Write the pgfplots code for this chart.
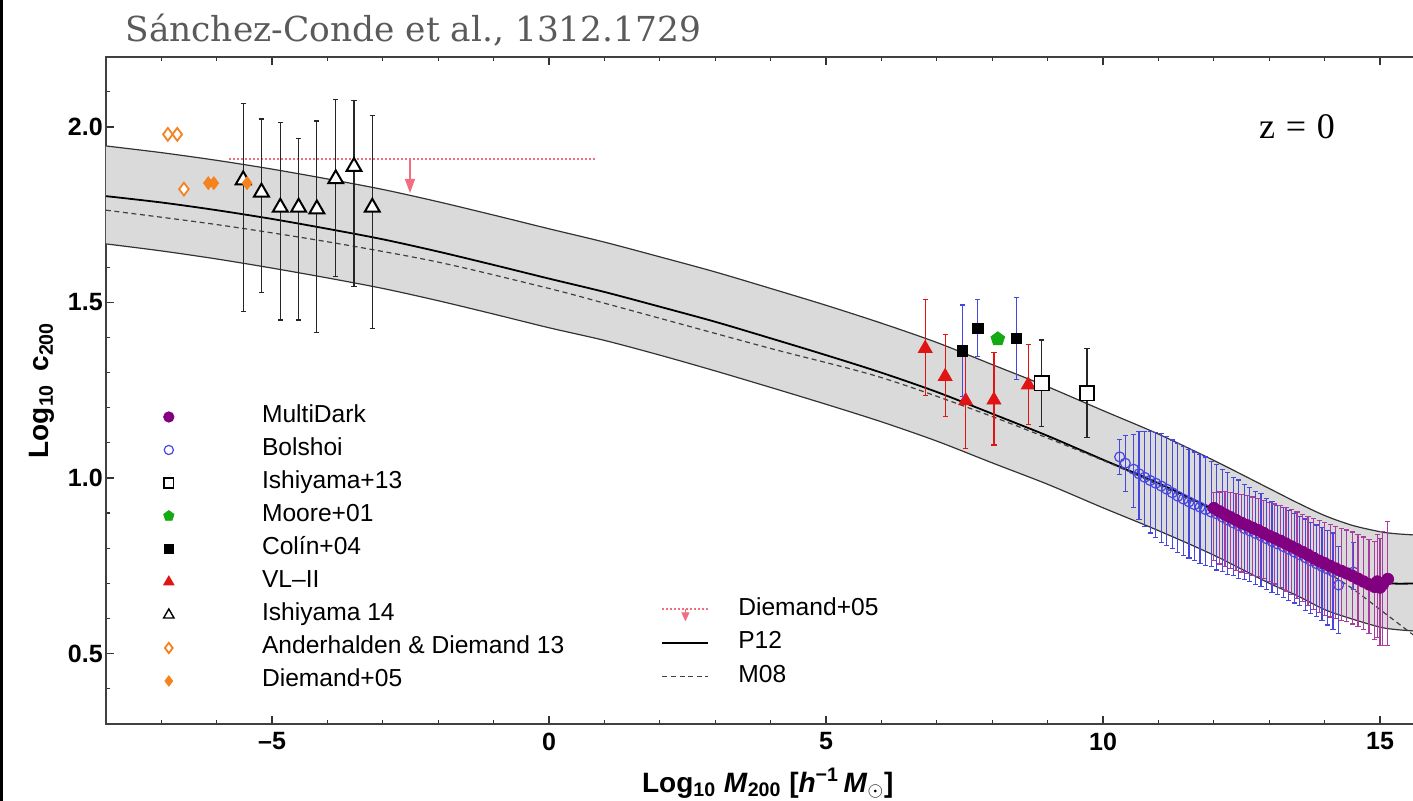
\documentclass[border=0pt]{standalone}
\usepackage{fontspec}
\setmainfont{Liberation Sans}
\newfontfamily\titlefont{DejaVu Serif}
\newfontfamily\timesfont{Liberation Serif}
\usepackage{pgfplots}
\usepackage{pgfplotstable}
\pgfplotsset{compat=1.18}
\usepgfplotslibrary{fillbetween}
\usetikzlibrary{arrows.meta}

\definecolor{bandgray}{RGB}{218,218,218}
\definecolor{mdpurple}{RGB}{128,0,128}
\definecolor{mdbar}{RGB}{170,60,160}
\definecolor{bolblue}{RGB}{70,70,225}
\definecolor{vlred}{RGB}{225,20,20}
\definecolor{mgreen}{RGB}{20,170,20}
\definecolor{adorange}{RGB}{245,130,30}
\definecolor{dpink}{RGB}{240,110,125}
\definecolor{titlegray}{RGB}{90,90,90}

% P12 central relation and band edges
\pgfplotstableread{
x y
-8 1.803
-7 1.785
-6 1.763
-5 1.738
-4 1.710
-3 1.680
-2 1.645
-1 1.607
0 1.568
1 1.530
2 1.488
3 1.445
4 1.398
5 1.350
6 1.300
7 1.245
8 1.183
9 1.120
10 1.052
11 0.985
12 0.910
13 0.830
13.5 0.790
14 0.752
14.5 0.722
15 0.703
15.3 0.699
15.8 0.700
}\Ptwelve

\pgfplotstableread{
x y
-8 1.946
-7 1.927
-6 1.905
-5 1.880
-4 1.852
-3 1.822
-2 1.787
-1 1.749
0 1.710
1 1.672
2 1.630
3 1.587
4 1.540
5 1.492
6 1.441
7 1.386
8 1.323
9 1.260
10 1.192
11 1.125
12 1.050
13 0.970
13.5 0.930
14 0.893
14.5 0.865
15 0.847
15.3 0.841
15.8 0.836
}\Upper

\pgfplotstableread{
x y
-8 1.667
-7 1.647
-6 1.624
-5 1.598
-4 1.570
-3 1.540
-2 1.505
-1 1.467
0 1.428
1 1.392
2 1.350
3 1.305
4 1.258
5 1.210
6 1.160
7 1.105
8 1.043
9 0.982
10 0.915
11 0.850
12 0.780
13 0.700
13.5 0.665
14 0.625
14.5 0.598
15 0.575
15.3 0.568
15.8 0.562
}\Lower

\pgfplotstableread{
x y
-8 1.763
-6 1.722
-4 1.673
-2 1.615
0 1.540
1 1.498
2 1.455
4 1.369
6 1.286
8 1.175
10 1.050
11 0.980
12 0.905
13 0.825
13.5 0.782
14 0.735
14.5 0.685
15 0.625
15.6 0.553
15.8 0.530
}\Meight

\pgfplotstableread{
x y ep em
-5.52 1.849 0.217 0.375
-5.19 1.814 0.209 0.285
-4.85 1.771 0.242 0.321
-4.52 1.771 0.197 0.321
-4.19 1.766 0.251 0.352
-3.85 1.852 0.227 0.277
-3.52 1.887 0.188 0.342
-3.19 1.771 0.261 0.346
}\IshiFourteen

\pgfplotstableread{
x y ep em
6.79 1.369 0.140 0.133
7.15 1.289 0.120 0.114
7.52 1.220 0.135 0.135
8.03 1.222 0.135 0.128
8.65 1.265 0.116 0.112
}\VLII

\pgfplotstableread{
x y ep em
7.46 1.362 0.131 0.130
7.74 1.426 0.083 0.080
8.44 1.398 0.117 0.117
}\Colin

\pgfplotstableread{
x y ep em
8.89 1.270 0.123 0.124
9.71 1.241 0.129 0.126
}\IshiThirteen

\pgfplotstableread{
x y ep em
10.30 1.060 0.050 0.050
10.40 1.042 0.080 0.080
10.55 1.025 0.100 0.110
10.65 1.012 0.120 0.130
10.75 1.002 0.130 0.140
10.85 0.993 0.140 0.150
10.95 0.985 0.145 0.155
11.05 0.977 0.150 0.160
11.15 0.968 0.150 0.160
11.25 0.958 0.150 0.160
11.35 0.948 0.150 0.160
11.45 0.940 0.150 0.160
11.55 0.932 0.150 0.160
11.65 0.924 0.150 0.160
11.75 0.917 0.150 0.160
11.85 0.910 0.150 0.160
11.95 0.903 0.145 0.155
12.05 0.898 0.140 0.160
12.15 0.889 0.135 0.155
12.25 0.880 0.135 0.155
12.35 0.872 0.130 0.150
12.45 0.864 0.130 0.150
12.55 0.856 0.125 0.145
12.65 0.849 0.125 0.145
12.75 0.842 0.120 0.145
12.85 0.835 0.120 0.145
12.95 0.827 0.115 0.145
13.05 0.819 0.115 0.145
13.15 0.812 0.110 0.145
13.25 0.805 0.110 0.145
13.35 0.797 0.110 0.145
13.45 0.789 0.110 0.145
13.55 0.781 0.110 0.145
13.65 0.773 0.110 0.150
13.75 0.764 0.110 0.150
13.85 0.756 0.110 0.150
13.95 0.748 0.110 0.155
14.05 0.741 0.110 0.160
14.15 0.733 0.110 0.165
14.25 0.695 0.110 0.137
14.52 0.732 0.085 0.050
}\Bolshoi

\pgfplotstableread{
x y ep em
12.00 0.914 0.045 0.150
12.10 0.905 0.055 0.150
12.20 0.896 0.065 0.148
12.30 0.888 0.070 0.146
12.40 0.880 0.075 0.144
12.50 0.872 0.080 0.140
12.60 0.865 0.085 0.138
12.70 0.858 0.088 0.135
12.80 0.851 0.090 0.132
12.90 0.843 0.092 0.130
13.00 0.835 0.095 0.130
13.10 0.828 0.098 0.130
13.20 0.821 0.100 0.132
13.30 0.813 0.102 0.135
13.40 0.805 0.105 0.138
13.50 0.797 0.106 0.140
13.60 0.789 0.108 0.142
13.70 0.781 0.110 0.145
13.80 0.772 0.112 0.147
13.90 0.764 0.114 0.148
14.00 0.757 0.116 0.148
14.10 0.749 0.118 0.145
14.20 0.742 0.120 0.142
14.30 0.735 0.122 0.140
14.40 0.728 0.124 0.138
14.50 0.721 0.125 0.137
14.60 0.713 0.126 0.136
14.70 0.705 0.127 0.136
14.80 0.697 0.128 0.140
14.90 0.690 0.130 0.150
14.95 0.705 0.135 0.160
15.00 0.688 0.140 0.165
15.05 0.697 0.150 0.175
15.14 0.712 0.164 0.190
}\MultiDark

\pgfplotsset{
  errsty/.style={error bars/.cd, y dir=both, y explicit,
     error bar style={line width=0.6pt, draw=#1},
     error mark options={rotate=90, mark size=1.3pt, line width=0.6pt, draw=#1}},
  mdsty/.style={only marks, mark=*, mark size=2.9pt, mark options={draw=mdpurple, fill=mdpurple}},
  bolsty/.style={only marks, mark=o, mark size=2.5pt, mark options={draw=bolblue, line width=0.6pt}},
  i13sty/.style={only marks, mark=square*, mark size=3.6pt, mark options={draw=black, fill=white, line width=0.8pt}},
  moorsty/.style={only marks, mark=pentagon*, mark size=3.6pt, mark options={draw=mgreen, fill=mgreen}},
  colsty/.style={only marks, mark=square*, mark size=2.6pt, mark options={draw=black, fill=black}},
  vlsty/.style={only marks, mark=triangle*, mark size=4.0pt, mark options={draw=vlred, fill=vlred}},
  i14sty/.style={only marks, mark=triangle*, mark size=4.3pt, mark options={draw=black, fill=white, line width=1pt}},
  adsty/.style={only marks, mark=diamond*, mark size=3.2pt, mark options={draw=adorange, fill=white, line width=0.9pt}},
  d05sty/.style={only marks, mark=diamond*, mark size=3.2pt, mark options={draw=adorange, fill=adorange}},
}

\begin{document}
\begin{tikzpicture}
\begin{axis}[
  at={(52.9pt,38.65pt)}, anchor=south west,
  scale only axis, width=659.3pt, height=333.45pt,
  xmin=-8, xmax=15.8, ymin=0.3, ymax=2.2,
  clip mode=individual,
  axis line style={black!75, line width=1pt},
  xtick={-5,0,5,10,15}, xticklabels={\textendash5,0,5,10,15},
  ytick={0.5,1,1.5,2}, yticklabels={0.5,1.0,1.5,2.0},
  minor xtick={-8,-7,...,15},
  minor ytick={0.3,0.4,...,2.2},
  tick align=inside, major tick length=4pt, minor tick length=2pt,
  every tick/.style={black!80, line width=0.6pt},
  xticklabel style={font=\bfseries\fontsize{12.5}{14}\selectfont, yshift=-1pt},
  yticklabel style={font=\bfseries\fontsize{12.5}{14}\selectfont, xshift=2pt},
  xlabel={Log\textsubscript{10} \textit{M}\textsubscript{200} [\textit{h}\textsuperscript{\textminus1}\,\textit{M}\textsubscript{$\odot$}]},
  ylabel={Log\textsubscript{10}\hspace{0.45em}c\textsubscript{200}},
  every axis x label/.style={at={(axis description cs:0.502,-0.089)}, anchor=center, font=\bfseries\fontsize{14}{16}\selectfont},
  every axis y label/.style={at={(axis description cs:-0.0485,0.5)}, anchor=center, rotate=90, font=\bfseries\fontsize{14}{16}\selectfont},
  legend style={draw=none, fill=none, at={(axis description cs:0.039,0.489)}, anchor=north west,
     font=\fontsize{12.3}{14}\selectfont, row sep=1.5pt,
     nodes={inner sep=1.5pt, text height=9pt, text depth=3pt},
     /tikz/every odd column/.append style={column sep=42.5pt}},
  legend cell align=left,
]
% band
\addplot[draw=none, name path=U, forget plot, smooth] table[x=x,y=y]{\Upper};
\addplot[draw=none, name path=L, forget plot, smooth] table[x=x,y=y]{\Lower};
\addplot[fill=bandgray, draw=none, forget plot] fill between[of=U and L];
\addplot[black!80, line width=0.6pt, smooth, forget plot] table[x=x,y=y]{\Upper};
\addplot[black!80, line width=0.6pt, smooth, forget plot] table[x=x,y=y]{\Lower};
\addplot[black, line width=0.9pt, smooth, forget plot] table[x=x,y=y]{\Ptwelve};
\addplot[black!75, line width=0.6pt, dash pattern=on 2.5pt off 1.8pt, smooth, forget plot] table[x=x,y=y]{\Meight};

% Diemand+05 upper limit
\addplot[dpink, line width=1pt, dash pattern=on 0.9pt off 1.1pt, forget plot] coordinates {(-5.78,1.909) (0.83,1.909)};
\addplot[dpink, line width=0.7pt, -{Triangle[width=5pt,length=7pt]}, forget plot] coordinates {(-2.51,1.909) (-2.51,1.812)};

% Ishiyama 14
\addplot[i14sty, forget plot, errsty=black!85] table[x=x,y=y,y error plus=ep,y error minus=em]{\IshiFourteen};
% orange
\addplot[d05sty, forget plot] coordinates {(-6.15,1.840) (-6.05,1.840) (-5.45,1.840)};
\addplot[adsty, forget plot] coordinates {(-6.88,1.979) (-6.71,1.979) (-6.59,1.823)};
% VL-II
\addplot[vlsty, forget plot, errsty=vlred] table[x=x,y=y,y error plus=ep,y error minus=em]{\VLII};
% Colin
\addplot[colsty, forget plot, errsty=bolblue] table[x=x,y=y,y error plus=ep,y error minus=em]{\Colin};
% Moore
\addplot[moorsty, forget plot] coordinates {(8.10,1.396)};
% Ishiyama 13
\addplot[i13sty, forget plot, errsty=black!85] table[x=x,y=y,y error plus=ep,y error minus=em]{\IshiThirteen};
% Bolshoi
\addplot[bolsty, forget plot, errsty=bolblue] table[x=x,y=y,y error plus=ep,y error minus=em]{\Bolshoi};
% MultiDark
\addplot[mdsty, forget plot, errsty=mdbar] table[x=x,y=y,y error plus=ep,y error minus=em]{\MultiDark};

\node[font=\timesfont\fontsize{18}{18}\selectfont] at (axis cs:13.5,2.0) {z\hspace{0.3em}=\hspace{0.3em}0};
\node[anchor=west, font=\titlefont\fontsize{17.2}{17.2}\selectfont, text=titlegray, inner sep=0pt] at (axis description cs:0.0146,1.040) {Sánchez-Conde et al., 1312.1729};

\addlegendimage{mdsty, mark size=2.6pt}
\addlegendentry{MultiDark}
\addlegendimage{bolsty, mark size=2.3pt}
\addlegendentry{Bolshoi}
\addlegendimage{i13sty, mark size=2.4pt}
\addlegendentry{Ishiyama+13}
\addlegendimage{moorsty, mark size=2.7pt}
\addlegendentry{Moore+01}
\addlegendimage{colsty, mark size=2.4pt}
\addlegendentry{Colín+04}
\addlegendimage{vlsty, mark size=3pt}
\addlegendentry{VL\textendash II}
\addlegendimage{i14sty, mark size=3pt, mark options={draw=black, fill=white, line width=0.7pt}}
\addlegendentry{Ishiyama 14}
\addlegendimage{adsty, mark size=2.6pt}
\addlegendentry{Anderhalden \& Diemand 13}
\addlegendimage{d05sty, mark size=2.6pt}
\addlegendentry{Diemand+05}
\end{axis}

\begin{axis}[
  at={(52.9pt,38.65pt)}, anchor=south west,
  scale only axis, width=659.3pt, height=333.45pt,
  xmin=-8, xmax=15.8, ymin=0.3, ymax=2.2,
  hide axis,
  legend style={draw=none, fill=none, at={(axis description cs:0.4166,0.2005)}, anchor=north west,
     font=\fontsize{12.3}{14}\selectfont, row sep=1.75pt,
     nodes={inner sep=1.5pt, text height=9pt, text depth=3pt},
     /tikz/every odd column/.append style={column sep=13pt}},
  legend cell align=left,
]
\addplot[draw=none, forget plot] coordinates {(0,1)};
\addlegendimage{legend image code/.code={
   \draw[dpink, line width=0.9pt, dash pattern=on 0.9pt off 1.1pt] (0pt,0pt) -- (23pt,0pt);
   \draw[dpink, line width=0.6pt, -{Triangle[width=4pt,length=4.5pt]}] (11.5pt,0pt) -- (11.5pt,-6pt);}}
\addlegendentry{Diemand+05}
\addlegendimage{legend image code/.code={\draw[black, line width=0.9pt] (0pt,0pt) -- (23pt,0pt);}}
\addlegendentry{P12}
\addlegendimage{legend image code/.code={\draw[black!75, line width=0.6pt, dash pattern=on 2.5pt off 1.8pt] (0pt,0pt) -- (23pt,0pt);}}
\addlegendentry{M08}
\end{axis}
\fill[black] (0,0) rectangle (1.6pt,400.5pt);
\pgfresetboundingbox
\path[use as bounding box] (0,0) rectangle (706.5pt,400.5pt);
\end{tikzpicture}
\end{document}
